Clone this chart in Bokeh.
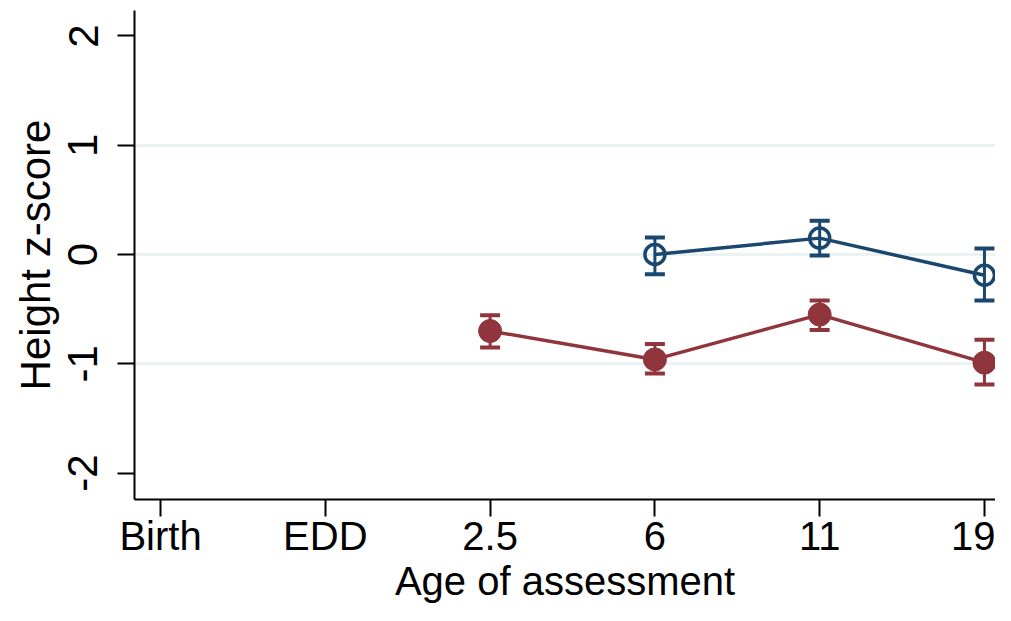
from bokeh.plotting import figure
from bokeh.models import Range1d, FixedTicker, ColumnDataSource
from bokeh.embed import file_html
from bokeh.resources import INLINE

# ---- data ----
categories = ["Birth", "EDD", "2.5", "6", "11", "19"]
y_ticks = [-2, -1, 0, 1, 2]
y_tick_labels = ["-2", "-1", "0", "1", "2"]
grid_ticks = [-1, 0, 1]

blue_ages = ["6", "11", "19"]
blue_mean = [0.0, 0.15, -0.19]
blue_lower = [-0.18, -0.01, -0.42]
blue_upper = [0.155, 0.31, 0.056]

red_ages = ["2.5", "6", "11", "19"]
red_mean = [-0.70, -0.96, -0.55, -0.99]
red_lower = [-0.85, -1.09, -0.69, -1.19]
red_upper = [-0.555, -0.82, -0.42, -0.78]

BLUE = "#1a476f"
RED = "#90353b"
FONT = "Liberation Sans"

def xpos(labels):
    return [categories.index(a) + 1 for a in labels]

p = figure(width=995, height=605, output_backend="svg", toolbar_location=None,
           x_range=Range1d(0.842, 6.067), y_range=Range1d(-2.242, 2.233),
           min_border_left=134, min_border_right=0, min_border_top=10,
           min_border_bottom=102)
p.outline_line_color = None
p.background_fill_color = "white"
p.border_fill_color = "white"

# grid
p.xgrid.grid_line_color = None
p.ygrid.ticker = FixedTicker(ticks=grid_ticks)
p.ygrid.grid_line_color = "#eaf2f3"
p.ygrid.grid_line_width = 3

# axes
p.xaxis.ticker = FixedTicker(ticks=list(range(1, len(categories) + 1)))
p.xaxis.major_label_overrides = {i + 1: c for i, c in enumerate(categories)}
p.yaxis.ticker = FixedTicker(ticks=y_ticks)
p.yaxis.major_label_overrides = dict(zip(y_ticks, y_tick_labels))
p.yaxis.major_label_orientation = "vertical"

for ax in (p.xaxis[0], p.yaxis[0]):
    ax.axis_line_color = "black"
    ax.axis_line_width = 2
    ax.major_tick_line_color = "black"
    ax.major_tick_line_width = 2
    ax.major_tick_out = 17
    ax.major_tick_in = 0
    ax.minor_tick_line_color = None
    ax.major_label_text_color = "black"
    ax.axis_label_text_color = "black"
    ax.axis_label_text_font_style = "normal"

p.xaxis.major_label_text_font = FONT
p.xaxis.major_label_text_font_size = "40px"
p.xaxis.major_label_standoff = -3
p.xaxis.axis_label = "Age of assessment"
p.xaxis.axis_label_text_font = FONT
p.xaxis.axis_label_text_font_size = "40px"
p.xaxis.axis_label_standoff = -2

p.yaxis.major_label_text_font = FONT
p.yaxis.major_label_text_font_size = "42px"
p.yaxis.major_label_standoff = 20
p.yaxis.axis_label = "Height z-score"
p.yaxis.axis_label_text_font = FONT
p.yaxis.axis_label_text_font_size = "42px"
p.yaxis.axis_label_standoff = 7

def series(ages, mean, lower, upper, color, filled):
    src = ColumnDataSource(dict(x=xpos(ages), y=mean, lo=lower, hi=upper))
    p.line("x", "y", source=src, line_color=color, line_width=3.5)
    p.segment(x0="x", y0="lo", x1="x", y1="hi", source=src,
              line_color=color, line_width=3)
    p.scatter("x", "lo", source=src, marker="dash", size=20,
              line_color=color, line_width=4)
    p.scatter("x", "hi", source=src, marker="dash", size=20,
              line_color=color, line_width=4)
    if filled:
        p.scatter("x", "y", source=src, marker="circle", size=23,
                  fill_color=color, line_color=color, line_width=1)
    else:
        p.scatter("x", "y", source=src, marker="circle", size=20,
                  fill_color=None, line_color=color, line_width=3.5)

series(blue_ages, blue_mean, blue_lower, blue_upper, BLUE, False)
series(red_ages, red_mean, red_lower, red_upper, RED, True)

open("out.html", "w").write(file_html(p, INLINE))
